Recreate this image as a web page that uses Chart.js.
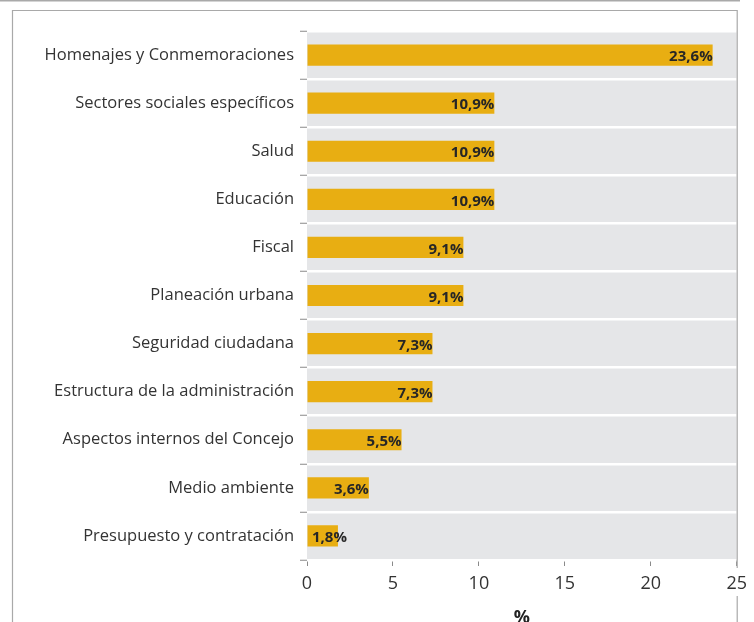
<!DOCTYPE html>
<html>
<head>
<meta charset="utf-8">
<script src="https://cdn.jsdelivr.net/npm/chart.js@4"></script>
<style>
  html, body { margin: 0; padding: 0; background: #ffffff; }
  #wrap { width: 754px; height: 622px; position: relative; }
</style>
</head>
<body>
<div id="wrap"><canvas id="c" width="754" height="622"></canvas></div>
<script>
const categories = [
  'Homenajes y Conmemoraciones',
  'Sectores sociales específicos',
  'Salud',
  'Educación',
  'Fiscal',
  'Planeación urbana',
  'Seguridad ciudadana',
  'Estructura de la administración',
  'Aspectos internos del Concejo',
  'Medio ambiente',
  'Presupuesto y contratación'
];
const values = [23.6, 10.9, 10.9, 10.9, 9.1, 9.1, 7.3, 7.3, 5.5, 3.6, 1.8];
const xTicks = [0, 5, 10, 15, 20, 25];
const xTitle = '%';

const FONT = '"Open Sans", "Noto Sans", sans-serif';

const bgPlugin = {
  id: 'bg',
  beforeDraw(chart) {
    const { ctx, chartArea: a } = chart;
    ctx.save();
    ctx.fillStyle = '#e5e6e8';
    ctx.fillRect(a.left, a.top, a.right - a.left, a.bottom - a.top);
    ctx.restore();
  },
  afterDraw(chart) {
    const { ctx, chartArea: a } = chart;
    ctx.save();
    ctx.strokeStyle = '#a9a9a9';
    ctx.lineWidth = 1.5;
    ctx.beginPath(); ctx.moveTo(0, 0.75); ctx.lineTo(740, 0.75); ctx.stroke();
    ctx.lineWidth = 1.2;
    ctx.beginPath();
    ctx.moveTo(12.5, 622); ctx.lineTo(12.5, 10.5); ctx.lineTo(a.right + 0.5, 10.5); ctx.lineTo(a.right + 0.5, a.bottom + 8);
    ctx.moveTo(a.right + 0.5, a.bottom + 36); ctx.lineTo(a.right + 0.5, 622);
    ctx.stroke();
    ctx.restore();
  }
};

const labelPlugin = {
  id: 'vlabels',
  afterDatasetsDraw(chart) {
    const { ctx, chartArea: a } = chart;
    const meta = chart.getDatasetMeta(0);
    ctx.save();
    ctx.font = 'bold 15px ' + FONT;
    ctx.fillStyle = '#262626';
    ctx.textAlign = 'right';
    ctx.textBaseline = 'middle';
    meta.data.forEach((bar, i) => {
      const txt = values[i].toFixed(1).replace('.', ',') + '%';
      const w = ctx.measureText(txt).width;
      const x = Math.max(bar.x, a.left + 5 + w);
      ctx.fillText(txt, x, bar.y + 2);
    });
    ctx.restore();
  }
};

new Chart(document.getElementById('c'), {
  type: 'bar',
  data: {
    labels: categories,
    datasets: [{
      data: values,
      backgroundColor: '#e8ae12',
      borderWidth: 0,
      barPercentage: 0.44,
      categoryPercentage: 1.0
    }]
  },
  options: {
    indexAxis: 'y',
    responsive: false,
    animation: false,
    devicePixelRatio: 1,
    layout: { padding: { top: 31, right: 17, left: 0, bottom: 0 } },
    plugins: { legend: { display: false }, tooltip: { enabled: false } },
    scales: {
      x: {
        min: 0, max: 25,
        afterBuildTicks(scale) { scale.ticks = xTicks.map(v => ({ value: v })); },
        afterFit(scale) { scale.height = 62; },
        grid: { display: true, drawOnChartArea: false, drawTicks: true, tickLength: 6, tickColor: '#8a8a8a', tickWidth: 1 },
        border: { display: false },
        ticks: { color: '#333', font: { family: FONT, size: 18 }, padding: 7, maxRotation: 0 },
        title: { display: true, text: xTitle, color: '#222', font: { family: FONT, size: 18, weight: 'bold' }, padding: { top: 10, bottom: -7 } }
      },
      y: {
        afterFit(scale) { scale.width = 307; },
        grid: { display: true, offset: true, color: '#ffffff', lineWidth: 2.5, drawTicks: true, tickLength: 7, tickColor: '#8a8a8a', tickWidth: 1 },
        border: { display: false },
        ticks: { color: '#333', font: { family: FONT, size: 16.5 }, padding: 6, autoSkip: false }
      }
    }
  },
  plugins: [bgPlugin, labelPlugin]
});
</script>
</body>
</html>
